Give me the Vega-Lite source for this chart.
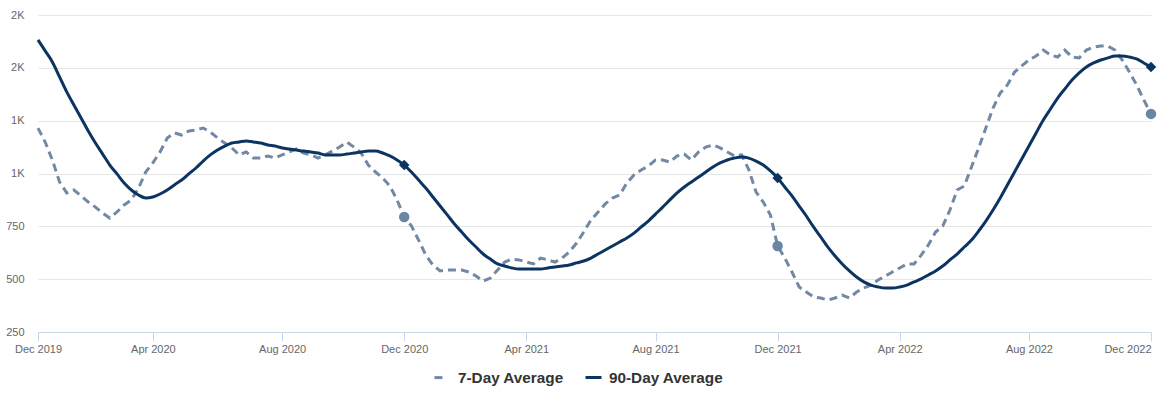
{
"$schema": "https://vega.github.io/schema/vega-lite/v6.json",
"width": 1113,
"height": 317,
"autosize": "none",
"padding": {"left": 38, "top": 15, "right": 15, "bottom": 62},
"background": "white",
"config": {"font": "Liberation Sans", "view": {"stroke": null}},
"data": {"values": [
{"d":"2019-12-13","s":"7-Day Average","v":1215},{"d":"2019-12-20","s":"7-Day Average","v":1149},{"d":"2019-12-27","s":"7-Day Average","v":1064},
{"d":"2020-01-03","s":"7-Day Average","v":960},{"d":"2020-01-10","s":"7-Day Average","v":908},{"d":"2020-01-17","s":"7-Day Average","v":922},{"d":"2020-01-24","s":"7-Day Average","v":894},{"d":"2020-01-31","s":"7-Day Average","v":865},
{"d":"2020-02-07","s":"7-Day Average","v":841},{"d":"2020-02-14","s":"7-Day Average","v":813},{"d":"2020-02-21","s":"7-Day Average","v":789},{"d":"2020-02-28","s":"7-Day Average","v":818},
{"d":"2020-03-06","s":"7-Day Average","v":851},{"d":"2020-03-13","s":"7-Day Average","v":875},{"d":"2020-03-20","s":"7-Day Average","v":931},{"d":"2020-03-27","s":"7-Day Average","v":1007},
{"d":"2020-04-03","s":"7-Day Average","v":1050},{"d":"2020-04-10","s":"7-Day Average","v":1102},{"d":"2020-04-17","s":"7-Day Average","v":1168},{"d":"2020-04-24","s":"7-Day Average","v":1192},
{"d":"2020-05-01","s":"7-Day Average","v":1182},{"d":"2020-05-08","s":"7-Day Average","v":1201},{"d":"2020-05-15","s":"7-Day Average","v":1206},{"d":"2020-05-22","s":"7-Day Average","v":1215},{"d":"2020-05-29","s":"7-Day Average","v":1196},
{"d":"2020-06-05","s":"7-Day Average","v":1168},{"d":"2020-06-12","s":"7-Day Average","v":1144},{"d":"2020-06-19","s":"7-Day Average","v":1121},{"d":"2020-06-26","s":"7-Day Average","v":1088},
{"d":"2020-07-03","s":"7-Day Average","v":1102},{"d":"2020-07-10","s":"7-Day Average","v":1073},{"d":"2020-07-17","s":"7-Day Average","v":1073},{"d":"2020-07-24","s":"7-Day Average","v":1083},{"d":"2020-07-31","s":"7-Day Average","v":1073},
{"d":"2020-08-07","s":"7-Day Average","v":1088},{"d":"2020-08-14","s":"7-Day Average","v":1102},{"d":"2020-08-21","s":"7-Day Average","v":1116},{"d":"2020-08-28","s":"7-Day Average","v":1097},
{"d":"2020-09-04","s":"7-Day Average","v":1088},{"d":"2020-09-11","s":"7-Day Average","v":1073},{"d":"2020-09-18","s":"7-Day Average","v":1088},{"d":"2020-09-25","s":"7-Day Average","v":1106},
{"d":"2020-10-02","s":"7-Day Average","v":1125},{"d":"2020-10-09","s":"7-Day Average","v":1149},{"d":"2020-10-16","s":"7-Day Average","v":1125},{"d":"2020-10-23","s":"7-Day Average","v":1097},{"d":"2020-10-30","s":"7-Day Average","v":1040},
{"d":"2020-11-06","s":"7-Day Average","v":1007},{"d":"2020-11-13","s":"7-Day Average","v":979},{"d":"2020-11-20","s":"7-Day Average","v":941},{"d":"2020-11-27","s":"7-Day Average","v":875},
{"d":"2020-12-04","s":"7-Day Average","v":794},{"d":"2020-12-11","s":"7-Day Average","v":752},{"d":"2020-12-18","s":"7-Day Average","v":685},{"d":"2020-12-25","s":"7-Day Average","v":614},
{"d":"2021-01-01","s":"7-Day Average","v":567},{"d":"2021-01-08","s":"7-Day Average","v":539},{"d":"2021-01-15","s":"7-Day Average","v":543},{"d":"2021-01-22","s":"7-Day Average","v":543},{"d":"2021-01-29","s":"7-Day Average","v":543},
{"d":"2021-02-05","s":"7-Day Average","v":534},{"d":"2021-02-12","s":"7-Day Average","v":515},{"d":"2021-02-19","s":"7-Day Average","v":491},{"d":"2021-02-26","s":"7-Day Average","v":505},
{"d":"2021-03-05","s":"7-Day Average","v":543},{"d":"2021-03-12","s":"7-Day Average","v":581},{"d":"2021-03-19","s":"7-Day Average","v":595},{"d":"2021-03-26","s":"7-Day Average","v":591},
{"d":"2021-04-02","s":"7-Day Average","v":581},{"d":"2021-04-09","s":"7-Day Average","v":572},{"d":"2021-04-16","s":"7-Day Average","v":600},{"d":"2021-04-23","s":"7-Day Average","v":591},{"d":"2021-04-30","s":"7-Day Average","v":581},
{"d":"2021-05-07","s":"7-Day Average","v":600},{"d":"2021-05-14","s":"7-Day Average","v":629},{"d":"2021-05-21","s":"7-Day Average","v":671},{"d":"2021-05-28","s":"7-Day Average","v":723},
{"d":"2021-06-04","s":"7-Day Average","v":780},{"d":"2021-06-11","s":"7-Day Average","v":818},{"d":"2021-06-18","s":"7-Day Average","v":856},{"d":"2021-06-25","s":"7-Day Average","v":884},
{"d":"2021-07-02","s":"7-Day Average","v":898},{"d":"2021-07-09","s":"7-Day Average","v":955},{"d":"2021-07-16","s":"7-Day Average","v":993},{"d":"2021-07-23","s":"7-Day Average","v":1017},{"d":"2021-07-30","s":"7-Day Average","v":1035},
{"d":"2021-08-06","s":"7-Day Average","v":1064},{"d":"2021-08-13","s":"7-Day Average","v":1064},{"d":"2021-08-20","s":"7-Day Average","v":1054},{"d":"2021-08-27","s":"7-Day Average","v":1083},
{"d":"2021-09-03","s":"7-Day Average","v":1092},{"d":"2021-09-10","s":"7-Day Average","v":1064},{"d":"2021-09-17","s":"7-Day Average","v":1102},{"d":"2021-09-24","s":"7-Day Average","v":1125},
{"d":"2021-10-01","s":"7-Day Average","v":1135},{"d":"2021-10-08","s":"7-Day Average","v":1121},{"d":"2021-10-15","s":"7-Day Average","v":1102},{"d":"2021-10-22","s":"7-Day Average","v":1083},{"d":"2021-10-29","s":"7-Day Average","v":1088},
{"d":"2021-11-05","s":"7-Day Average","v":1017},{"d":"2021-11-12","s":"7-Day Average","v":912},{"d":"2021-11-19","s":"7-Day Average","v":865},{"d":"2021-11-26","s":"7-Day Average","v":804},
{"d":"2021-12-03","s":"7-Day Average","v":657},{"d":"2021-12-10","s":"7-Day Average","v":600},{"d":"2021-12-17","s":"7-Day Average","v":534},{"d":"2021-12-24","s":"7-Day Average","v":463},{"d":"2021-12-31","s":"7-Day Average","v":439},
{"d":"2022-01-07","s":"7-Day Average","v":416},{"d":"2022-01-14","s":"7-Day Average","v":411},{"d":"2022-01-21","s":"7-Day Average","v":401},{"d":"2022-01-28","s":"7-Day Average","v":411},
{"d":"2022-02-04","s":"7-Day Average","v":425},{"d":"2022-02-11","s":"7-Day Average","v":411},{"d":"2022-02-18","s":"7-Day Average","v":439},{"d":"2022-02-25","s":"7-Day Average","v":458},
{"d":"2022-03-04","s":"7-Day Average","v":472},{"d":"2022-03-11","s":"7-Day Average","v":496},{"d":"2022-03-18","s":"7-Day Average","v":515},{"d":"2022-03-25","s":"7-Day Average","v":534},
{"d":"2022-04-01","s":"7-Day Average","v":553},{"d":"2022-04-08","s":"7-Day Average","v":572},{"d":"2022-04-15","s":"7-Day Average","v":572},{"d":"2022-04-22","s":"7-Day Average","v":614},{"d":"2022-04-29","s":"7-Day Average","v":662},
{"d":"2022-05-06","s":"7-Day Average","v":723},{"d":"2022-05-13","s":"7-Day Average","v":752},{"d":"2022-05-20","s":"7-Day Average","v":827},{"d":"2022-05-27","s":"7-Day Average","v":922},
{"d":"2022-06-03","s":"7-Day Average","v":941},{"d":"2022-06-10","s":"7-Day Average","v":1031},{"d":"2022-06-17","s":"7-Day Average","v":1121},{"d":"2022-06-24","s":"7-Day Average","v":1215},
{"d":"2022-07-01","s":"7-Day Average","v":1310},{"d":"2022-07-08","s":"7-Day Average","v":1381},{"d":"2022-07-15","s":"7-Day Average","v":1419},{"d":"2022-07-22","s":"7-Day Average","v":1480},{"d":"2022-07-29","s":"7-Day Average","v":1509},
{"d":"2022-08-05","s":"7-Day Average","v":1537},{"d":"2022-08-12","s":"7-Day Average","v":1556},{"d":"2022-08-19","s":"7-Day Average","v":1584},{"d":"2022-08-26","s":"7-Day Average","v":1561},
{"d":"2022-09-02","s":"7-Day Average","v":1551},{"d":"2022-09-09","s":"7-Day Average","v":1584},{"d":"2022-09-16","s":"7-Day Average","v":1551},{"d":"2022-09-23","s":"7-Day Average","v":1547},{"d":"2022-09-30","s":"7-Day Average","v":1584},
{"d":"2022-10-07","s":"7-Day Average","v":1598},{"d":"2022-10-14","s":"7-Day Average","v":1603},{"d":"2022-10-21","s":"7-Day Average","v":1603},{"d":"2022-10-28","s":"7-Day Average","v":1584},
{"d":"2022-11-04","s":"7-Day Average","v":1537},{"d":"2022-11-11","s":"7-Day Average","v":1480},{"d":"2022-11-18","s":"7-Day Average","v":1419},{"d":"2022-11-25","s":"7-Day Average","v":1348},
{"d":"2022-12-02","s":"7-Day Average","v":1282},
{"d":"2019-12-13","s":"90-Day Average","v":1632},{"d":"2019-12-20","s":"90-Day Average","v":1580},{"d":"2019-12-27","s":"90-Day Average","v":1528},
{"d":"2020-01-03","s":"90-Day Average","v":1457},{"d":"2020-01-10","s":"90-Day Average","v":1386},{"d":"2020-01-17","s":"90-Day Average","v":1324},{"d":"2020-01-24","s":"90-Day Average","v":1263},{"d":"2020-01-31","s":"90-Day Average","v":1201},
{"d":"2020-02-07","s":"90-Day Average","v":1144},{"d":"2020-02-14","s":"90-Day Average","v":1092},{"d":"2020-02-21","s":"90-Day Average","v":1040},{"d":"2020-02-28","s":"90-Day Average","v":998},
{"d":"2020-03-06","s":"90-Day Average","v":955},{"d":"2020-03-13","s":"90-Day Average","v":922},{"d":"2020-03-20","s":"90-Day Average","v":898},{"d":"2020-03-27","s":"90-Day Average","v":884},
{"d":"2020-04-03","s":"90-Day Average","v":889},{"d":"2020-04-10","s":"90-Day Average","v":903},{"d":"2020-04-17","s":"90-Day Average","v":922},{"d":"2020-04-24","s":"90-Day Average","v":946},
{"d":"2020-05-01","s":"90-Day Average","v":969},{"d":"2020-05-08","s":"90-Day Average","v":998},{"d":"2020-05-15","s":"90-Day Average","v":1026},{"d":"2020-05-22","s":"90-Day Average","v":1059},{"d":"2020-05-29","s":"90-Day Average","v":1088},
{"d":"2020-06-05","s":"90-Day Average","v":1111},{"d":"2020-06-12","s":"90-Day Average","v":1130},{"d":"2020-06-19","s":"90-Day Average","v":1144},{"d":"2020-06-26","s":"90-Day Average","v":1149},
{"d":"2020-07-03","s":"90-Day Average","v":1154},{"d":"2020-07-10","s":"90-Day Average","v":1149},{"d":"2020-07-17","s":"90-Day Average","v":1144},{"d":"2020-07-24","s":"90-Day Average","v":1135},{"d":"2020-07-31","s":"90-Day Average","v":1130},
{"d":"2020-08-07","s":"90-Day Average","v":1121},{"d":"2020-08-14","s":"90-Day Average","v":1116},{"d":"2020-08-21","s":"90-Day Average","v":1111},{"d":"2020-08-28","s":"90-Day Average","v":1106},
{"d":"2020-09-04","s":"90-Day Average","v":1102},{"d":"2020-09-11","s":"90-Day Average","v":1097},{"d":"2020-09-18","s":"90-Day Average","v":1088},{"d":"2020-09-25","s":"90-Day Average","v":1088},
{"d":"2020-10-02","s":"90-Day Average","v":1088},{"d":"2020-10-09","s":"90-Day Average","v":1092},{"d":"2020-10-16","s":"90-Day Average","v":1097},{"d":"2020-10-23","s":"90-Day Average","v":1102},{"d":"2020-10-30","s":"90-Day Average","v":1106},
{"d":"2020-11-06","s":"90-Day Average","v":1106},{"d":"2020-11-13","s":"90-Day Average","v":1097},{"d":"2020-11-20","s":"90-Day Average","v":1083},{"d":"2020-11-27","s":"90-Day Average","v":1064},
{"d":"2020-12-04","s":"90-Day Average","v":1040},{"d":"2020-12-11","s":"90-Day Average","v":1007},{"d":"2020-12-18","s":"90-Day Average","v":969},{"d":"2020-12-25","s":"90-Day Average","v":931},
{"d":"2021-01-01","s":"90-Day Average","v":889},{"d":"2021-01-08","s":"90-Day Average","v":846},{"d":"2021-01-15","s":"90-Day Average","v":804},{"d":"2021-01-22","s":"90-Day Average","v":761},{"d":"2021-01-29","s":"90-Day Average","v":723},
{"d":"2021-02-05","s":"90-Day Average","v":685},{"d":"2021-02-12","s":"90-Day Average","v":652},{"d":"2021-02-19","s":"90-Day Average","v":619},{"d":"2021-02-26","s":"90-Day Average","v":595},
{"d":"2021-03-05","s":"90-Day Average","v":572},{"d":"2021-03-12","s":"90-Day Average","v":562},{"d":"2021-03-19","s":"90-Day Average","v":553},{"d":"2021-03-26","s":"90-Day Average","v":548},
{"d":"2021-04-02","s":"90-Day Average","v":548},{"d":"2021-04-09","s":"90-Day Average","v":548},{"d":"2021-04-16","s":"90-Day Average","v":548},{"d":"2021-04-23","s":"90-Day Average","v":553},{"d":"2021-04-30","s":"90-Day Average","v":558},
{"d":"2021-05-07","s":"90-Day Average","v":562},{"d":"2021-05-14","s":"90-Day Average","v":567},{"d":"2021-05-21","s":"90-Day Average","v":577},{"d":"2021-05-28","s":"90-Day Average","v":586},
{"d":"2021-06-04","s":"90-Day Average","v":600},{"d":"2021-06-11","s":"90-Day Average","v":619},{"d":"2021-06-18","s":"90-Day Average","v":638},{"d":"2021-06-25","s":"90-Day Average","v":657},
{"d":"2021-07-02","s":"90-Day Average","v":676},{"d":"2021-07-09","s":"90-Day Average","v":695},{"d":"2021-07-16","s":"90-Day Average","v":718},{"d":"2021-07-23","s":"90-Day Average","v":747},{"d":"2021-07-30","s":"90-Day Average","v":775},
{"d":"2021-08-06","s":"90-Day Average","v":808},{"d":"2021-08-13","s":"90-Day Average","v":841},{"d":"2021-08-20","s":"90-Day Average","v":875},{"d":"2021-08-27","s":"90-Day Average","v":908},
{"d":"2021-09-03","s":"90-Day Average","v":936},{"d":"2021-09-10","s":"90-Day Average","v":960},{"d":"2021-09-17","s":"90-Day Average","v":983},{"d":"2021-09-24","s":"90-Day Average","v":1007},
{"d":"2021-10-01","s":"90-Day Average","v":1031},{"d":"2021-10-08","s":"90-Day Average","v":1050},{"d":"2021-10-15","s":"90-Day Average","v":1064},{"d":"2021-10-22","s":"90-Day Average","v":1073},{"d":"2021-10-29","s":"90-Day Average","v":1078},
{"d":"2021-11-05","s":"90-Day Average","v":1073},{"d":"2021-11-12","s":"90-Day Average","v":1059},{"d":"2021-11-19","s":"90-Day Average","v":1040},{"d":"2021-11-26","s":"90-Day Average","v":1012},
{"d":"2021-12-03","s":"90-Day Average","v":979},{"d":"2021-12-10","s":"90-Day Average","v":936},{"d":"2021-12-17","s":"90-Day Average","v":894},{"d":"2021-12-24","s":"90-Day Average","v":846},{"d":"2021-12-31","s":"90-Day Average","v":799},
{"d":"2022-01-07","s":"90-Day Average","v":747},{"d":"2022-01-14","s":"90-Day Average","v":700},{"d":"2022-01-21","s":"90-Day Average","v":652},{"d":"2022-01-28","s":"90-Day Average","v":610},
{"d":"2022-02-04","s":"90-Day Average","v":572},{"d":"2022-02-11","s":"90-Day Average","v":539},{"d":"2022-02-18","s":"90-Day Average","v":510},{"d":"2022-02-25","s":"90-Day Average","v":487},
{"d":"2022-03-04","s":"90-Day Average","v":472},{"d":"2022-03-11","s":"90-Day Average","v":463},{"d":"2022-03-18","s":"90-Day Average","v":458},{"d":"2022-03-25","s":"90-Day Average","v":458},
{"d":"2022-04-01","s":"90-Day Average","v":463},{"d":"2022-04-08","s":"90-Day Average","v":472},{"d":"2022-04-15","s":"90-Day Average","v":487},{"d":"2022-04-22","s":"90-Day Average","v":501},{"d":"2022-04-29","s":"90-Day Average","v":520},
{"d":"2022-05-06","s":"90-Day Average","v":539},{"d":"2022-05-13","s":"90-Day Average","v":562},{"d":"2022-05-20","s":"90-Day Average","v":591},{"d":"2022-05-27","s":"90-Day Average","v":619},
{"d":"2022-06-03","s":"90-Day Average","v":652},{"d":"2022-06-10","s":"90-Day Average","v":685},{"d":"2022-06-17","s":"90-Day Average","v":728},{"d":"2022-06-24","s":"90-Day Average","v":775},
{"d":"2022-07-01","s":"90-Day Average","v":827},{"d":"2022-07-08","s":"90-Day Average","v":884},{"d":"2022-07-15","s":"90-Day Average","v":946},{"d":"2022-07-22","s":"90-Day Average","v":1007},{"d":"2022-07-29","s":"90-Day Average","v":1069},
{"d":"2022-08-05","s":"90-Day Average","v":1130},{"d":"2022-08-12","s":"90-Day Average","v":1192},{"d":"2022-08-19","s":"90-Day Average","v":1253},{"d":"2022-08-26","s":"90-Day Average","v":1305},
{"d":"2022-09-02","s":"90-Day Average","v":1357},{"d":"2022-09-09","s":"90-Day Average","v":1400},{"d":"2022-09-16","s":"90-Day Average","v":1442},{"d":"2022-09-23","s":"90-Day Average","v":1476},{"d":"2022-09-30","s":"90-Day Average","v":1504},
{"d":"2022-10-07","s":"90-Day Average","v":1523},{"d":"2022-10-14","s":"90-Day Average","v":1537},{"d":"2022-10-21","s":"90-Day Average","v":1547},{"d":"2022-10-28","s":"90-Day Average","v":1556},
{"d":"2022-11-04","s":"90-Day Average","v":1556},{"d":"2022-11-11","s":"90-Day Average","v":1551},{"d":"2022-11-18","s":"90-Day Average","v":1542},{"d":"2022-11-25","s":"90-Day Average","v":1523},
{"d":"2022-12-02","s":"90-Day Average","v":1504}
]},
"encoding": {
  "x": {"field": "d", "type": "temporal",
    "scale": {"type": "utc", "domain": [{"year": 2019, "month": 12, "date": 13, "utc": true}, {"year": 2022, "month": 12, "date": 2, "utc": true}]},
    "axis": {"title": null,
      "labelExpr": "utcFormat(datum.value, '%b %Y')",
      "values": [
        {"year": 2019, "month": 12, "date": 13, "utc": true},
        {"year": 2020, "month": 4, "date": 3, "utc": true},
        {"year": 2020, "month": 8, "date": 7, "utc": true},
        {"year": 2020, "month": 12, "date": 4, "utc": true},
        {"year": 2021, "month": 4, "date": 2, "utc": true},
        {"year": 2021, "month": 8, "date": 6, "utc": true},
        {"year": 2021, "month": 12, "date": 3, "utc": true},
        {"year": 2022, "month": 4, "date": 1, "utc": true},
        {"year": 2022, "month": 8, "date": 5, "utc": true},
        {"year": 2022, "month": 12, "date": 2, "utc": true}],
      "grid": false, "domainColor": "#ccd6eb", "tickColor": "#ccd6eb", "tickSize": 9,
      "labelColor": "#666666", "labelFontSize": 11, "labelPadding": 2, "labelOverlap": false, "labelFlush": false, "labelBound": false,
      "labelAlign": {"condition": {"test": "utcyear(datum.value) == 2022 && utcmonth(datum.value) == 11", "value": "right"}, "value": "center"}}},
  "y": {"field": "v", "type": "quantitative",
    "scale": {"domain": [250, 1750], "nice": false, "zero": false},
    "axis": {"title": null, "values": [250, 500, 750, 1000, 1250, 1500, 1750], "domain": false, "ticks": false,
      "gridColor": "#e6e6e6", "labelColor": "#666666", "labelFontSize": 11, "labelPadding": 14,
      "labelExpr": "datum.value >= 1000 ? replace(format(datum.value, '.1s'), 'k', 'K') : format(datum.value, 'd')"}}
},
"layer": [
  {"transform": [{"filter": "datum.s == '7-Day Average'"}],
   "mark": {"type": "line", "strokeWidth": 3, "strokeDash": [8, 5], "interpolate": "linear"},
   "encoding": {"color": {"field": "s", "type": "nominal",
     "scale": {"domain": ["7-Day Average", "90-Day Average"], "range": ["#7189a4", "#0b3461"]},
     "legend": {"title": null, "orient": "none", "legendX": 395, "legendY": 353, "direction": "horizontal", "labelFontSize": 15.3, "labelFontWeight": "bold",
       "labelColor": "#333333", "symbolType": "stroke", "symbolStrokeWidth": 3, "symbolSize": 256, "columnPadding": 15,
       "labelOffset": 6,
       "encode": {"symbols": {"update": {"strokeDash": {"signal": "datum.value == '7-Day Average' ? [8, 12] : [1, 0]"}}}}}}}},
  {"transform": [{"filter": "datum.s == '90-Day Average'"}],
   "mark": {"type": "line", "strokeWidth": 3, "interpolate": "monotone"},
   "encoding": {"color": {"field": "s", "type": "nominal"}}},
  {"transform": [{"filter": "datum.s == '7-Day Average' && utcmonth(toDate(datum.d)) == 11 && utcdate(toDate(datum.d)) <= 7"}],
   "mark": {"type": "point", "shape": "circle", "filled": true, "size": 110, "color": "#6a86a2", "opacity": 1}},
  {"transform": [{"filter": "datum.s == '90-Day Average' && utcmonth(toDate(datum.d)) == 11 && utcdate(toDate(datum.d)) <= 7"}],
   "mark": {"type": "point", "shape": "diamond", "filled": true, "size": 110, "color": "#0b3461", "opacity": 1}}
]
}
